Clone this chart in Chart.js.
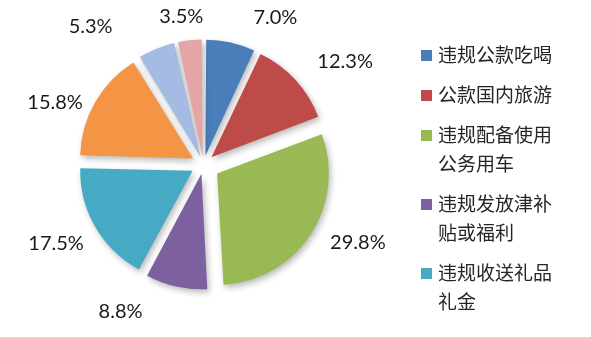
<!DOCTYPE html>
<html>
<head>
<meta charset="utf-8">
<script src="https://cdn.jsdelivr.net/npm/chart.js@4/dist/chart.umd.min.js"></script>
<style>
  html, body { margin: 0; padding: 0; background: #fff; }
  #wrap { width: 591px; height: 337px; }
</style>
</head>
<body>
<div id="wrap"><canvas id="pie" width="591" height="337"></canvas></div>
<script>
// categories shown in the legend (line breaks where the legend wraps)
var categories = ['违规公款吃喝', '公款国内旅游', '违规配备使用\n公务用车', '违规发放津补\n贴或福利', '违规收送礼品\n礼金'];
// share of each slice, clockwise from 12 o'clock
var shares = [7.0, 12.3, 29.8, 8.8, 17.5, 15.8, 5.3, 3.5];
var sliceColors = ['#4a7ebb', '#be4b48', '#98b954', '#7d60a0', '#46aac5', '#f39545', '#a4bce3', '#e5a4a5'];

// outside labels: small angle (deg) tweaks and distance from centre
var labelNudge = [13.4, 6.7, -6.3, 16.8, 2, -7.1, -17.2, -2.2];
var labelDist = [164, 175, 173, 169, 167, 161, 178, 150];

// Chart.js moves an arc by offset/4 * (2 - sin(circumference)),
// so work back from the gap we want in pixels
function explode(ctx) {
  var total = shares.reduce(function (a, b) { return a + b; }, 0);
  var circ = shares[ctx.dataIndex] / total * Math.PI * 2;
  var px = ctx.dataIndex === 2 ? 17 : 14;
  return px * 4 / (2 - Math.sin(Math.min(Math.PI, circ)));
}

var shadowPlugin = {
  id: 'sliceShadow',
  beforeDatasetsDraw: function (chart) {
    var ctx = chart.ctx;
    ctx.save();
    ctx.shadowColor = 'rgba(0,0,0,0.28)';
    ctx.shadowBlur = 6;
    ctx.shadowOffsetX = 2;
    ctx.shadowOffsetY = 3;
  },
  afterDatasetsDraw: function (chart) {
    chart.ctx.restore();
  }
};

var pctLabels = {
  id: 'pctLabels',
  afterDatasetsDraw: function (chart) {
    var ctx = chart.ctx;
    var arcs = chart.getDatasetMeta(0).data;
    ctx.save();
    ctx.font = '20px Lato, "Liberation Sans", sans-serif';
    ctx.fillStyle = '#1a1a1a';
    ctx.textAlign = 'center';
    ctx.textBaseline = 'middle';
    arcs.forEach(function (arc, i) {
      var p = arc.getProps(['x', 'y', 'startAngle', 'endAngle'], true);
      var mid = (p.startAngle + p.endAngle) / 2 + labelNudge[i] * Math.PI / 180;
      var x = p.x + Math.cos(mid) * labelDist[i];
      var y = p.y + Math.sin(mid) * labelDist[i];
      ctx.fillText(shares[i].toFixed(1) + '%', x, y);
    });
    ctx.restore();
  }
};

var sideLegend = {
  id: 'sideLegend',
  afterDraw: function (chart) {
    var ctx = chart.ctx;
    var y = 55;
    ctx.save();
    ctx.font = '19px "Noto Sans CJK SC", sans-serif';
    ctx.textBaseline = 'middle';
    ctx.textAlign = 'left';
    categories.forEach(function (name, i) {
      var lines = name.split('\n');
      ctx.fillStyle = sliceColors[i];
      ctx.fillRect(421, y - 5, 11, 11);
      ctx.fillStyle = '#262626';
      lines.forEach(function (line, j) {
        ctx.fillText(line, 438, y + j * 29);
      });
      y += lines.length * 29 + 11;
    });
    ctx.restore();
  }
};

var pie = new Chart(document.getElementById('pie').getContext('2d'), {
  type: 'pie',
  data: {
    labels: categories,
    datasets: [{
      data: shares,
      backgroundColor: sliceColors,
      borderWidth: 0,
      offset: explode
    }]
  },
  options: {
    responsive: false,
    animation: false,
    radius: 111,
    layout: { padding: { left: 3, right: 187, top: 0, bottom: 8 } },
    plugins: {
      legend: { display: false },
      tooltip: { enabled: false }
    }
  },
  plugins: [shadowPlugin, pctLabels, sideLegend]
});
</script>
</body>
</html>
